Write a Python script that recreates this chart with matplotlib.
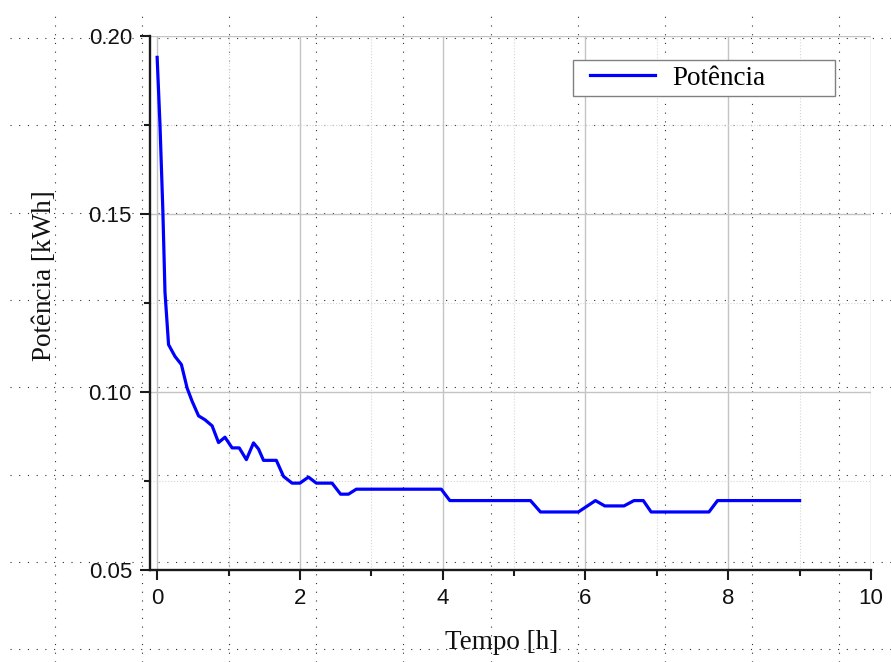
import numpy as np
import matplotlib
matplotlib.use('Agg')
import matplotlib.pyplot as plt
from matplotlib.lines import Line2D
from matplotlib.patches import Rectangle
from matplotlib.ticker import MultipleLocator

# dados
tempo = [0, 0.04, 0.08, 0.11, 0.16, 0.25, 0.34, 0.42, 0.49, 0.58,
         0.67, 0.77, 0.86, 0.95, 1.05, 1.15, 1.25, 1.35, 1.42, 1.49,
         1.67, 1.77, 1.89, 2.00, 2.12, 2.23, 2.45, 2.57, 2.68, 2.79,
         3.98, 4.10, 5.23, 5.37, 5.90, 6.14, 6.27, 6.54, 6.68, 6.81,
         6.92, 7.73, 7.85, 9.00]
potencia = [0.194, 0.175, 0.151, 0.128, 0.1133, 0.1100, 0.1077, 0.1011, 0.0974, 0.0933,
            0.0922, 0.0905, 0.0858, 0.0873, 0.0843, 0.0843, 0.0810, 0.0857, 0.0840, 0.0808,
            0.0808, 0.0763, 0.0744, 0.0744, 0.0761, 0.0744, 0.0744, 0.0713, 0.0713, 0.0727,
            0.0727, 0.0695, 0.0695, 0.0663, 0.0663, 0.0695, 0.0680, 0.0680, 0.0695, 0.0695,
            0.0663, 0.0663, 0.0695, 0.0695]
xticks = [0, 2, 4, 6, 8, 10]
yticks = [0.05, 0.10, 0.15, 0.20]

W, H = 891, 662
fig = plt.figure(figsize=(W / 100, H / 100), dpi=100)
fig.patch.set_facecolor('white')

# grade pontilhada sobre a figura inteira
dots = (0, (1, 6.84))
for k in range(10):
    xp = (55 + 87.1 * k) / W
    fig.add_artist(Line2D([xp, xp], [0, 1 - 12 / H], transform=fig.transFigure,
                          color='#303030', lw=0.8, linestyle=dots, zorder=-1))
for k in range(8):
    yp = 1 - (38 + 87.3 * k) / H
    fig.add_artist(Line2D([10 / W, 1], [yp, yp], transform=fig.transFigure,
                          color='#303030', lw=0.8, linestyle=dots, zorder=-1))

ax = fig.add_axes([150 / W, (H - 570) / H, 721 / W, 534 / H])
ax.patch.set_alpha(0)

ax.plot(tempo, potencia, color='#0000ff', lw=2.3, label='Potência', zorder=3)

ax.set_xlim(-0.1, 10)
ax.set_ylim(0.05, 0.20)
ax.set_xticks(xticks)
ax.set_yticks(yticks)
ax.set_xticklabels([str(t) for t in xticks])
ax.set_yticklabels(['%.2f' % t for t in yticks])
ax.xaxis.set_minor_locator(MultipleLocator(1))
ax.yaxis.set_minor_locator(MultipleLocator(0.025))

ax.grid(which='major', color='#c4c4c4', lw=1.0, linestyle='-')
ax.grid(which='minor', color='#d6d6d6', lw=0.8, linestyle=':')
ax.set_axisbelow(True)

for s in ['top', 'right']:
    ax.spines[s].set_visible(False)
for s in ['left', 'bottom']:
    ax.spines[s].set_linewidth(1.7)
    ax.spines[s].set_color('#1a1a1a')

ax.tick_params(which='major', direction='out', length=7, width=1.5, color='#1a1a1a',
               labelsize=16, pad=6)
ax.tick_params(which='minor', direction='out', length=4, width=1.5, color='#1a1a1a')
for lab in ax.get_xticklabels() + ax.get_yticklabels():
    lab.set_fontfamily('Liberation Sans')
    lab.set_color('#111111')

ax.set_xlabel('Tempo [h]', fontfamily='Liberation Serif', fontsize=19.5, color='#111111')
ax.set_ylabel('Potência [kWh]', fontfamily='Liberation Serif', fontsize=19.5, color='#111111')
ax.xaxis.set_label_coords(0.488, -0.113)
ax.yaxis.set_label_coords(-0.129, 0.552)

# legenda: caixa desenhada a parte, conteudo sem moldura
ax.add_patch(Rectangle((0.587, 0.8876), 0.3634, 0.0674, transform=ax.transAxes,
                       facecolor='white', edgecolor='#808080', lw=1.0, zorder=4))
leg = ax.legend(loc='center left', bbox_to_anchor=(0.610, 0.921), frameon=False,
                borderaxespad=0, borderpad=0, handlelength=2.4, handletextpad=0.66,
                prop={'family': 'Liberation Serif', 'size': 19.5})
leg.set_zorder(5)

fig.savefig('out.png', dpi=100)
